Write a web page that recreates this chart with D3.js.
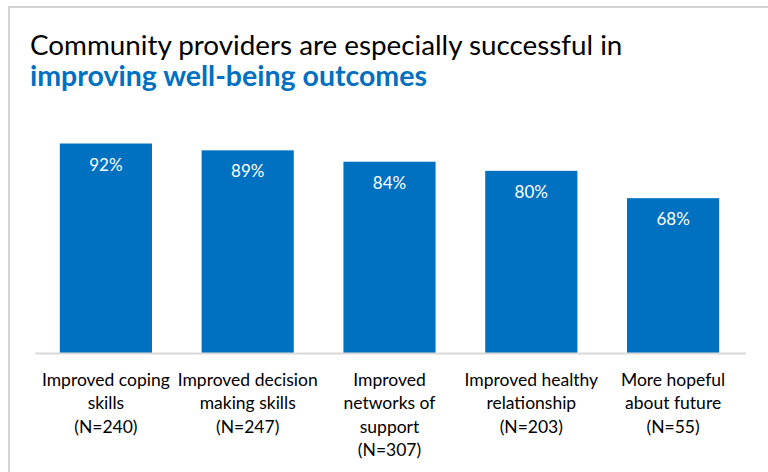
<!DOCTYPE html>
<meta charset="utf-8">
<style>
    body { margin: 0; background: #fff; }
    svg { display: block; font-family: Lato, "Open Sans", sans-serif; }
</style>
<script src="https://d3js.org/d3.v7.min.js"></script>
<div id="chart"></div>
<script>
    // data
    var categories = ["coping", "decision", "networks", "healthy", "hopeful"];
    var labelLines = [
        ["Improved coping", "skills", "(N=240)"],
        ["Improved decision", "making skills", "(N=247)"],
        ["Improved", "networks of", "support", "(N=307)"],
        ["Improved healthy", "relationship", "(N=203)"],
        ["More hopeful", "about future", "(N=55)"]
    ];
    var values = [92, 89, 84, 80, 68];

    var width = 768, height = 472;
    var blue = "#0070C0";

    var svg = d3.select("#chart").append("svg")
        .attr("width", width)
        .attr("height", height);

    // frame around the slide
    svg.append("path")
        .attr("d", "M9," + height + "V7H" + width)
        .attr("fill", "none")
        .attr("stroke", "#d4d4d4")
        .attr("stroke-width", 2);

    // title
    svg.append("text")
        .attr("x", 30).attr("y", 55)
        .style("font-size", "27.8px")
        .style("fill", "#000")
        .text("Community providers are especially successful in");
    svg.append("text")
        .attr("x", 30).attr("y", 86)
        .style("font-size", "28.5px")
        .style("font-weight", "bold")
        .style("fill", blue)
        .text("improving well-being outcomes");

    var x = d3.scaleBand()
        .domain(categories)
        .range([35, 744])
        .paddingInner(0.35)
        .paddingOuter(0.175);

    var y = d3.scaleLinear()
        .domain([0, 100])
        .range([353, 125.3]);

    // bars
    svg.selectAll("rect.bar")
        .data(values)
        .enter().append("rect")
        .attr("class", "bar")
        .attr("x", function (d, i) { return x(categories[i]); })
        .attr("y", function (d) { return y(d); })
        .attr("width", x.bandwidth())
        .attr("height", function (d) { return y(0) - y(d); })
        .attr("fill", blue);

    // value labels inside the bars
    svg.selectAll("text.val")
        .data(values)
        .enter().append("text")
        .attr("class", "val")
        .attr("x", function (d, i) { return x(categories[i]) + x.bandwidth() / 2; })
        .attr("y", function (d) { return y(d) + 27; })
        .attr("text-anchor", "middle")
        .style("font-size", "17px")
        .style("fill", "#fff")
        .text(function (d) { return d + "%"; });

    // baseline
    svg.append("line")
        .attr("x1", x.range()[0]).attr("x2", x.range()[1] + 2)
        .attr("y1", y(0) + 0.5).attr("y2", y(0) + 0.5)
        .attr("stroke", "#d9d9d9")
        .attr("stroke-width", 2);

    // category labels, several lines each
    var lab = svg.selectAll("text.cat")
        .data(labelLines)
        .enter().append("text")
        .attr("class", "cat")
        .attr("text-anchor", "middle")
        .style("font-size", "17.5px")
        .style("fill", "#000");
    lab.selectAll("tspan")
        .data(function (d, i) { return d.map(function (t) { return {t: t, i: i}; }); })
        .enter().append("tspan")
        .attr("x", function (d) { return x(categories[d.i]) + x.bandwidth() / 2; })
        .attr("y", function (d, j) { return 386 + j * 23.3; })
        .text(function (d) { return d.t; });
</script>
